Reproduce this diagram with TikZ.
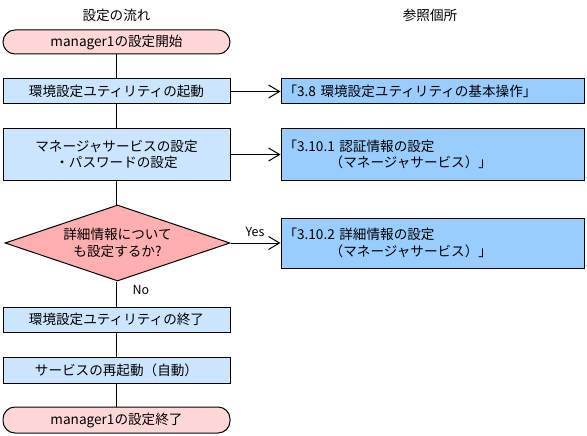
\documentclass[tikz,border=0pt]{standalone}
\usepackage{fontspec}
\setmainfont{Noto Sans CJK JP}
\usetikzlibrary{shapes.geometric,arrows.meta}
\definecolor{termfill}{RGB}{255,215,215}
\definecolor{decfill}{RGB}{255,175,175}
\definecolor{boxfill}{RGB}{204,229,255}
\definecolor{reffill}{RGB}{153,204,255}
\begin{document}
\begin{tikzpicture}[x=1pt,y=-1pt,
  every node/.style={font=\fontsize{13.6}{16.5}\selectfont, inner sep=0pt},
  term/.style={draw=black, fill=termfill, rounded corners=12pt, minimum width=227pt, line width=1pt},
  procbox/.style={draw=black, fill=boxfill, minimum width=227pt, line width=1pt, align=center},
  refbox/.style={draw=black, fill=reffill, minimum width=303pt, line width=1pt, align=left, text width=298pt},
  decision/.style={draw=black, fill=decfill, diamond, aspect=2.96, minimum width=225pt, minimum height=76pt, line width=1pt, align=center},
  flow/.style={draw=black, line width=1pt},
  refarrow/.style={draw=black, line width=1pt, -{Straight Barb[length=11pt,width=13pt]}},
  lbl/.style={font=\fontsize{12.5}{14}\selectfont}
]
\useasboundingbox (0,0) rectangle (587,436);
\node (h1) at (116.5,15) {設定の流れ};
\node (h2) at (430,15) {参照個所};

\node[term, minimum height=24pt] (start) at (116.5,42) {manager1の設定開始};
\node[procbox, minimum height=25pt] (b1) at (116.5,91.5) {環境設定ユティリティの起動};
\node[procbox, minimum height=51pt] (b2) at (116.5,154.5) {マネージャサービスの設定\\・パスワードの設定};
\node[decision] (dia) at (117.5,243) {詳細情報について\\も設定するか?};
\node[procbox, minimum height=25pt] (b3) at (116.5,319.5) {環境設定ユティリティの終了};
\node[procbox, minimum height=26pt] (b4) at (116.5,370) {サービスの再起動（自動）};
\node[term, minimum height=26pt] (end) at (116.5,420) {manager1の設定終了};

\node[refbox, minimum height=25pt] (r1) at (432.5,91.5) {「3.8 環境設定ユティリティの基本操作」};
\node[refbox, minimum height=51pt] (r2) at (432.5,154.5) {「3.10.1 認証情報の設定\\\hspace*{3.4em}（マネージャサービス）」};
\node[refbox, minimum height=50pt] (r3) at (432.5,243) {「3.10.2 詳細情報の設定\\\hspace*{3.4em}（マネージャサービス）」};

\draw[flow] (start) -- (b1);
\draw[flow] (b1) -- (b2);
\draw[flow] (b2) -- (b2 |- dia.north);
\draw[flow] (b2 |- dia.south) -- (b3);
\draw[flow] (b3) -- (b4);
\draw[flow] (b4) -- (end);

\draw[refarrow] (b1.east) -- (r1.west);
\draw[refarrow] (b2.east) -- (r2.west);
\draw[refarrow] (dia.east) -- (r3.west);

\node[lbl] (yes) at (255,232) {Yes};
\node[lbl] (no) at (141,290) {No};
\end{tikzpicture}
\end{document}
